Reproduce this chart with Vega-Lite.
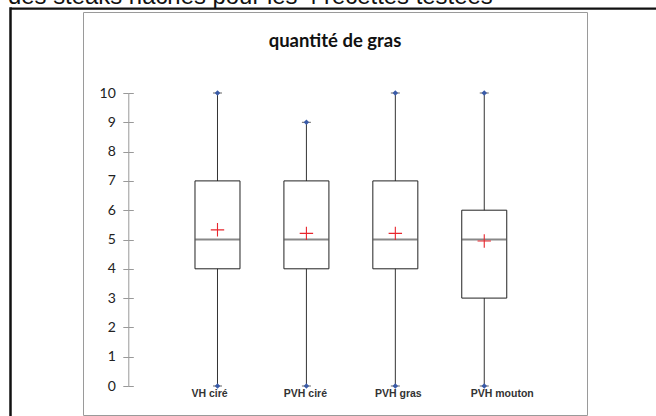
{
  "$schema": "https://vega.github.io/schema/vega-lite/v6.json",
  "description": "Boîtes à moustaches de la quantité de gras pour 4 recettes de steaks hachés.",
  "width": 504,
  "height": 403,
  "autosize": {"type": "none"},
  "padding": {"left": 83, "top": 12, "right": 69, "bottom": 1},
  "background": "white",
  "title": {
    "text": "quantité de gras",
    "font": "Lato",
    "fontSize": 18.5,
    "fontWeight": "bold",
    "color": "#111",
    "anchor": "middle",
    "frame": "group",
    "offset": -40,
    "dy": 26
  },
  "data": {
    "values": [
      {"recette": "VH ciré", "min": 0, "q1": 4, "median": 5, "q3": 7, "max": 10, "mean": 5.33},
      {"recette": "PVH ciré", "min": 0, "q1": 4, "median": 5, "q3": 7, "max": 9, "mean": 5.21},
      {"recette": "PVH gras", "min": 0, "q1": 4, "median": 5, "q3": 7, "max": 10, "mean": 5.21},
      {"recette": "PVH mouton", "min": 0, "q1": 3, "median": 5, "q3": 6, "max": 10, "mean": 4.95}
    ]
  },
  "layer": [
    {
      "layer": [
        {
          "mark": {"type": "rule", "color": "#333", "strokeWidth": 1},
          "encoding": {
            "x": {
              "field": "recette",
              "type": "nominal",
              "sort": ["VH ciré", "PVH ciré", "PVH gras", "PVH mouton"],
              "title": null,
              "scale": {"type": "band", "paddingInner": 0, "paddingOuter": 0.834, "align": 0.607},
              "axis": {
                "orient": "bottom",
                "offset": -28.5,
                "domain": false,
                "ticks": false,
                "labelPadding": 2,
                "labelFont": "Liberation Sans",
                "labelFontWeight": "bold",
                "labelFontSize": 10.5,
                "labelColor": "#333",
                "labelAngle": 0,
                "labelOffset": {"expr": "datum.value == 'VH ciré' ? -8 : datum.value == 'PVH ciré' ? -1 : datum.value == 'PVH gras' ? 3 : 18"}
              }
            },
            "y": {
              "field": "min",
              "type": "quantitative",
              "title": null,
              "scale": {"domain": [0, 10], "range": [374, 81], "nice": false, "zero": false},
              "axis": {
                "orient": "left",
                "offset": -45.3,
                "values": [0, 1, 2, 3, 4, 5, 6, 7, 8, 9, 10],
                "grid": false,
                "domainColor": "#999",
                "tickColor": "#999",
                "tickSize": 5.5,
                "labelPadding": 7.5,
                "labelFont": "Lato",
                "labelFontSize": 14,
                "labelColor": "#222"
              }
            },
            "y2": {"field": "max"}
          }
        },
        {
          "mark": {"type": "bar", "size": 45, "fill": "white", "stroke": "#222", "strokeWidth": 1},
          "encoding": {
            "x": {"field": "recette", "type": "nominal", "sort": ["VH ciré", "PVH ciré", "PVH gras", "PVH mouton"], "title": null},
            "y": {"field": "q1", "type": "quantitative", "title": null},
            "y2": {"field": "q3"}
          }
        },
        {
          "mark": {"type": "tick", "size": 45, "thickness": 2, "color": "#555"},
          "encoding": {
            "x": {"field": "recette", "type": "nominal", "sort": ["VH ciré", "PVH ciré", "PVH gras", "PVH mouton"], "title": null},
            "y": {"field": "median", "type": "quantitative", "title": null}
          }
        },
        {
          "mark": {"type": "tick", "size": 9, "thickness": 1, "color": "#222"},
          "encoding": {
            "x": {"field": "recette", "type": "nominal", "sort": ["VH ciré", "PVH ciré", "PVH gras", "PVH mouton"], "title": null},
            "y": {"field": "max", "type": "quantitative", "title": null}
          }
        },
        {
          "mark": {"type": "tick", "size": 9, "thickness": 1, "color": "#222"},
          "encoding": {
            "x": {"field": "recette", "type": "nominal", "sort": ["VH ciré", "PVH ciré", "PVH gras", "PVH mouton"], "title": null},
            "y": {"field": "min", "type": "quantitative", "title": null}
          }
        },
        {
          "mark": {"type": "point", "shape": "diamond", "filled": true, "size": 30, "color": "#3a5ba8", "opacity": 1},
          "encoding": {
            "x": {"field": "recette", "type": "nominal", "sort": ["VH ciré", "PVH ciré", "PVH gras", "PVH mouton"], "title": null},
            "y": {"field": "max", "type": "quantitative", "title": null}
          }
        },
        {
          "mark": {"type": "point", "shape": "M-1,0L1,0M0,-1L0,1", "filled": false, "size": 180, "color": "#e8262d", "strokeWidth": 1.1, "opacity": 1},
          "encoding": {
            "x": {"field": "recette", "type": "nominal", "sort": ["VH ciré", "PVH ciré", "PVH gras", "PVH mouton"], "title": null},
            "y": {"field": "mean", "type": "quantitative", "title": null}
          }
        }
      ]
    },
    {
      "mark": {"type": "point", "shape": "diamond", "filled": true, "size": 30, "color": "#3a5ba8", "opacity": 1},
      "encoding": {
        "x": {
          "field": "recette",
          "type": "nominal",
          "sort": ["VH ciré", "PVH ciré", "PVH gras", "PVH mouton"],
          "title": null,
          "scale": {"type": "band", "paddingInner": 0, "paddingOuter": 0.834, "align": 0.607},
          "axis": null
        },
        "y": {
          "field": "min",
          "type": "quantitative",
          "title": null,
          "scale": {"domain": [0, 10], "range": [374, 81], "nice": false, "zero": false},
          "axis": {
            "orient": "left",
            "offset": -45.3,
            "values": [0, 1, 2, 3, 4, 5, 6, 7, 8, 9, 10],
            "grid": false,
            "domain": false,
            "labels": false,
            "tickColor": "#999",
            "tickSize": -5
          }
        }
      }
    },
    {
      "data": {"values": [{"texte": "des steaks hachés pour les 4 recettes testées"}]},
      "mark": {"type": "text", "font": "Liberation Sans", "fontSize": 23.9, "color": "#111", "align": "left", "baseline": "alphabetic", "dx": -2, "dy": -3},
      "encoding": {
        "text": {"field": "texte"},
        "x": {
          "datum": 0,
          "type": "quantitative",
          "scale": {"domain": [0, 1], "range": [-73, 573], "nice": false, "zero": false},
          "axis": {
            "orient": "top",
            "offset": 3.8,
            "grid": false,
            "domainColor": "#111",
            "domainWidth": 2.2,
            "ticks": false,
            "labels": false,
            "title": null
          }
        },
        "y": {
          "datum": 1,
          "type": "quantitative",
          "scale": {"domain": [0, 1], "range": [404, -5.2], "nice": false, "zero": false},
          "axis": {
            "orient": "left",
            "offset": 73,
            "grid": false,
            "domainColor": "#111",
            "domainWidth": 2.5,
            "ticks": false,
            "labels": false,
            "title": null
          }
        }
      }
    }
  ],
  "resolve": {
    "scale": {"x": "independent", "y": "independent"},
    "axis": {"x": "independent", "y": "independent"}
  },
  "config": {
    "view": {"stroke": "#9a9a9a", "strokeWidth": 1}
  }
}
